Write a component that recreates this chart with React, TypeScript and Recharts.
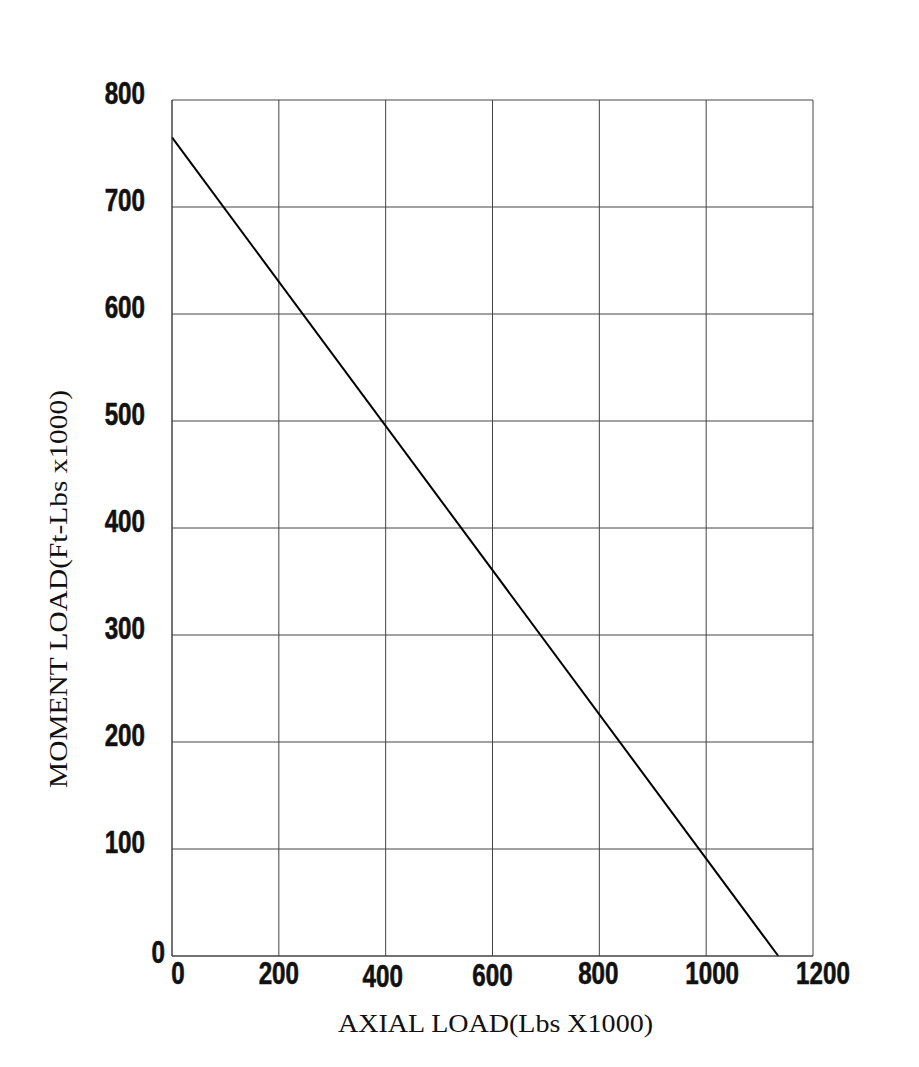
import { LineChart, Line, XAxis, YAxis, CartesianGrid } from 'recharts';

const axialLoad = [0, 1135];
const momentLoad = [765, 0];
const xTicks = [0, 200, 400, 600, 800, 1000, 1200];
const yTicks = [0, 100, 200, 300, 400, 500, 600, 700, 800];

const data = axialLoad.map((x, i) => ({ x, y: momentLoad[i] }));

const tickFont = '"Liberation Sans", Arial, sans-serif';
const labelFont = '"Liberation Serif", "DejaVu Serif", serif';

// small nudges to mimic the scanned label placement
const xNudge: Record<number, [number, number]> = {
  0: [6, 0], 400: [-3, 3], 600: [0, 2], 800: [-1, 0], 1000: [6, 0], 1200: [10, 0],
};

function XTick({ x, y, payload }: any) {
  const [dx, dy] = xNudge[payload.value] ?? [0, 0];
  return (
    <text transform={`translate(${x + dx},${y + 28 + dy}) scale(0.78,1)`} textAnchor="middle"
      fontFamily={tickFont} fontWeight={700} fontSize={31} fill="#111" stroke="#111" strokeWidth={0.6}>
      {payload.value}
    </text>
  );
}

function YTick({ x, y, payload }: any) {
  const isZero = payload.value === 0;
  const tx = isZero ? x - 7 : x - 27;
  const ty = isZero ? y + 7 : y + 4;
  return (
    <text transform={`translate(${tx},${ty}) scale(0.78,1)`} textAnchor="end"
      fontFamily={tickFont} fontWeight={700} fontSize={31} fill="#111" stroke="#111" strokeWidth={0.6}>
      {payload.value}
    </text>
  );
}

function XLabel({ viewBox }: any) {
  const cx = viewBox.x + viewBox.width / 2 + 3;
  return (
    <text x={cx} y={viewBox.y + 76} textAnchor="middle" fontFamily={labelFont} fontSize={26}
      fill="#111" textLength={315} lengthAdjust="spacingAndGlyphs">
      AXIAL LOAD(Lbs X1000)
    </text>
  );
}

function YLabel({ viewBox }: any) {
  const cy = viewBox.y + viewBox.height / 2 + 61;
  return (
    <text transform={`translate(67,${cy}) rotate(-90)`} textAnchor="middle" fontFamily={labelFont}
      fontSize={26} fill="#111" textLength={398} lengthAdjust="spacingAndGlyphs">
      MOMENT LOAD(Ft-Lbs x1000)
    </text>
  );
}

export default function App() {
  return (
    <div style={{ position: 'absolute', left: 0, top: 0, background: '#fff' }}>
      <LineChart width={919} height={1067} data={data}
        margin={{ top: 100, right: 106, bottom: 51, left: 0 }}>
        <CartesianGrid stroke="#444" strokeWidth={1} horizontalValues={yTicks} verticalValues={xTicks} />
        <XAxis
          dataKey="x"
          type="number"
          domain={[0, 1200]}
          ticks={xTicks}
          height={60}
          axisLine={{ stroke: '#444' }}
          tickLine={false}
          tickSize={0}
          tickMargin={0}
          tick={<XTick />}
          interval={0}
          label={<XLabel />}
        />
        <YAxis
          type="number"
          domain={[0, 800]}
          ticks={yTicks}
          width={172}
          axisLine={{ stroke: '#444' }}
          tickLine={false}
          tickSize={0}
          tickMargin={0}
          tick={<YTick />}
          interval={0}
          label={<YLabel />}
        />
        <Line dataKey="y" stroke="#000" strokeWidth={2} dot={false} isAnimationActive={false} />
      </LineChart>
    </div>
  );
}
